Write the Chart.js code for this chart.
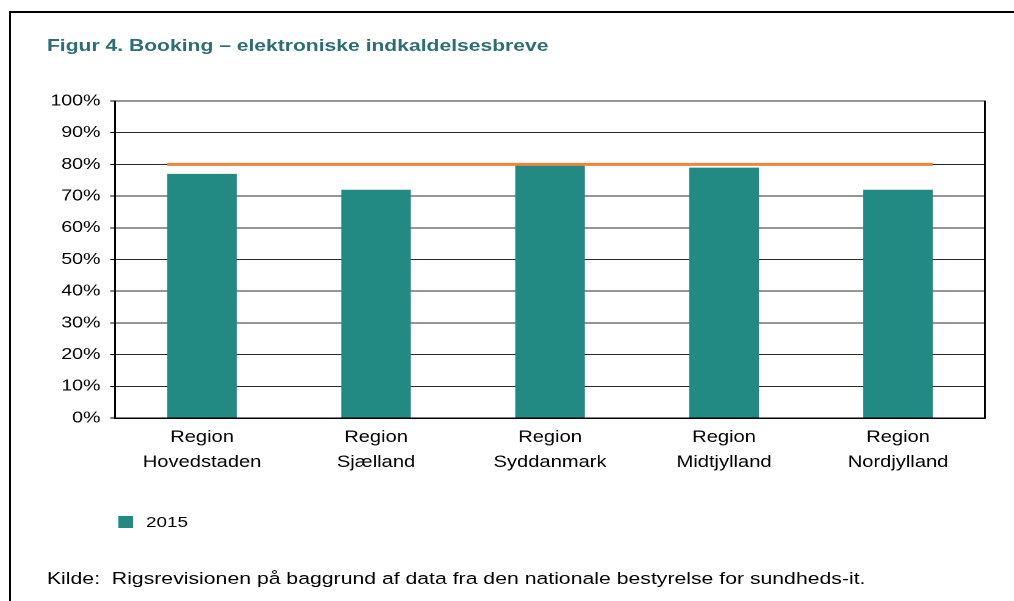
<!DOCTYPE html>
<html>
<head>
<meta charset="utf-8">
<script src="https://cdn.jsdelivr.net/npm/chart.js@4/dist/chart.umd.min.js"></script>
<style>
  html, body { margin: 0; padding: 0; background: #fff; width: 1014px; height: 601px; overflow: hidden; }
  body { position: relative; font-family: 'Liberation Sans', Arial, sans-serif; }
  #frame { position: absolute; left: 9px; top: 11px; width: 1100px; height: 700px;
           border-left: 2px solid #000; border-top: 2px solid #000; }
  /* the reference is horizontally stretched, so lay out narrow and widen */
  #wrap { position: absolute; left: 0; top: 0; width: 831px; height: 601px;
          transform: scaleX(1.22); transform-origin: 0 0; }
  #title { position: absolute; left: 38.5px; top: 35px; font-weight: bold; font-size: 17.3px;
           color: #2c6e73; white-space: pre; }
  #chartBox { position: absolute; left: 0; top: 80px; }
  #legend { position: absolute; left: 96.7px; top: 513px; font-size: 15.5px; color: #000; }
  #legend .item { display: flex; align-items: center; }
  #legend .swatch { width: 12px; height: 12px; margin-right: 11px; }
  #source { position: absolute; left: 38.5px; top: 568px; font-size: 17.4px; color: #000; white-space: pre; }
</style>
</head>
<body>
<div id="frame"></div>
<div id="wrap">
  <div id="title"></div>
  <div id="chartBox"><canvas id="chart" width="831" height="420"></canvas></div>
  <div id="legend"></div>
  <div id="source"></div>
</div>
<script>
// ── Data ───────────────────────────────────────────────────────────
var titleText = 'Figur 4. Booking \u2013 elektroniske indkaldelsesbreve';
var sourceText = 'Kilde:  Rigsrevisionen p\u00e5 baggrund af data fra den nationale bestyrelse for sundheds-it.';
var categories = [
  ['Region', 'Hovedstaden'],
  ['Region', 'Sj\u00e6lland'],
  ['Region', 'Syddanmark'],
  ['Region', 'Midtjylland'],
  ['Region', 'Nordjylland']
];
var seriesLabel = '2015';
var values2015 = [77, 72, 79.7, 79, 72];
var targetLevel = 80;
var yMin = 0, yMax = 100, yStep = 10;

var barColor = '#228983';
var targetColor = '#f0843c';
var barPct = 0.4;
var font = "'Liberation Sans', Arial, sans-serif";

document.getElementById('title').textContent = titleText;
document.getElementById('source').textContent = sourceText;

// bars sit at category index i on a linear x axis
var barData = values2015.map(function(v, i) { return { x: i, y: v }; });
// target line runs from the first bar's left edge to the last bar's right edge
var targetData = [
  { x: -barPct / 2, y: targetLevel },
  { x: categories.length - 1 + barPct / 2, y: targetLevel }
];

var ctx = document.getElementById('chart').getContext('2d');
var chart = new Chart(ctx, {
  type: 'bar',
  data: {
    datasets: [
      {
        type: 'line',
        label: 'M\u00e5l',
        data: targetData,
        borderColor: targetColor,
        borderWidth: 3,
        pointRadius: 0,
        fill: false,
        order: 0
      },
      {
        label: seriesLabel,
        data: barData,
        backgroundColor: barColor,
        borderWidth: 0,
        grouped: false,
        barPercentage: barPct,
        categoryPercentage: 1,
        order: 1
      }
    ]
  },
  options: {
    responsive: false,
    devicePixelRatio: 2,
    animation: false,
    layout: { padding: { left: 0, right: 23.6, top: 21, bottom: 0 } },
    plugins: {
      legend: { display: false },
      title: { display: false },
      tooltip: { enabled: false }
    },
    scales: {
      x: {
        type: 'linear',
        offset: false,
        min: -0.5,
        max: categories.length - 0.5,
        grid: { display: false, drawTicks: false },
        border: { display: true, color: '#000', width: 1.5 },
        afterBuildTicks: function(scale) {
          scale.ticks = categories.map(function(c, i) { return { value: i }; });
        },
        ticks: {
          color: '#000',
          font: { family: font, size: 16.5, lineHeight: 1.52 },
          padding: 7,
          maxRotation: 0,
          autoSkip: false,
          callback: function(v) { return categories[v]; }
        },
        afterFit: function(scale) { scale.height = 82; }
      },
      y: {
        min: yMin,
        max: yMax,
        grid: { color: '#2a2a2a', lineWidth: 1, tickLength: 4, tickColor: '#000' },
        border: { display: true, color: '#000', width: 1.5 },
        ticks: {
          stepSize: yStep,
          color: '#000',
          font: { family: font, size: 16 },
          padding: 8,
          callback: function(v) { return v + '%'; }
        },
        afterFit: function(scale) { scale.width = 94.3; }
      },
      yRight: {
        position: 'right',
        min: yMin,
        max: yMax,
        grid: { drawOnChartArea: false, drawTicks: false },
        border: { display: true, color: '#000', width: 1.5 },
        ticks: { display: false },
        afterFit: function(scale) { scale.width = 0; }
      }
    }
  }
});

// ── HTML legend (bar series only) ──────────────────────────────────
var legend = document.getElementById('legend');
legend.innerHTML = '<div class="item"><span class="swatch" style="background:' + barColor +
  '"></span><span>' + seriesLabel + '</span></div>';
</script>
</body>
</html>
